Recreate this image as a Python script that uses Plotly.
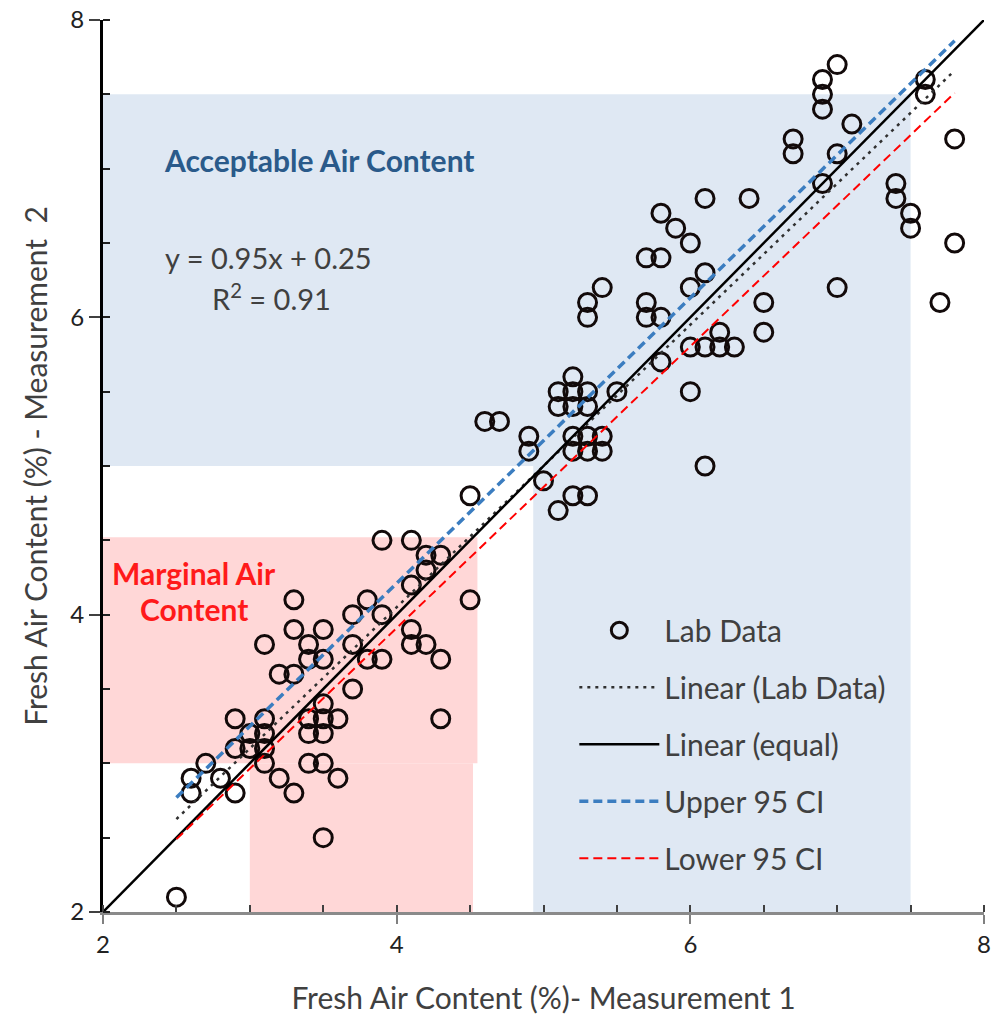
import plotly.graph_objects as go

# ---------------- data ----------------
lab_x = [2.5, 2.6, 2.6, 2.7, 2.8, 2.9, 2.9, 3.1, 2.9, 3.0, 3.0, 3.1, 3.1, 3.1,
         3.2, 3.3, 3.5, 3.4, 3.5, 3.6, 3.4, 3.5, 3.4, 3.5, 3.6, 3.5,
         3.2, 3.3, 3.4, 3.4, 3.5, 3.1, 3.3, 3.5, 3.3, 3.7, 3.7, 3.8, 3.9,
         3.7, 3.8, 3.9, 3.9, 4.1, 4.2, 4.3, 4.2, 4.1, 4.5, 4.1, 4.1, 4.2, 4.3,
         4.3, 4.5,
         4.6, 4.7, 4.9, 4.9, 5.0, 5.1, 5.2, 5.3,
         5.2, 5.1, 5.2, 5.3, 5.1, 5.2, 5.3, 5.2, 5.3, 5.4, 5.2, 5.3, 5.4,
         5.5, 6.0, 6.1,
         5.4, 5.3, 5.3, 5.7, 5.7, 5.8, 5.7, 5.8, 5.8, 5.9, 6.0, 6.1, 6.0, 6.1, 6.4,
         6.0, 6.1, 6.2, 6.2, 6.3, 5.8, 6.5, 6.5,
         7.0, 6.9, 6.9, 6.9, 7.1, 6.7, 6.7, 7.0, 6.9, 7.4, 7.4, 7.5, 7.5,
         7.8, 7.8, 7.7, 7.0, 7.6, 7.6]
lab_y = [2.1, 2.9, 2.8, 3.0, 2.9, 2.8, 3.3, 3.3, 3.1, 3.1, 3.2, 3.2, 3.0, 3.1,
         2.9, 2.8, 2.5, 3.0, 3.0, 2.9, 3.2, 3.2, 3.3, 3.3, 3.3, 3.4,
         3.6, 3.6, 3.7, 3.8, 3.7, 3.8, 3.9, 3.9, 4.1, 3.5, 3.8, 3.7, 3.7,
         4.0, 4.1, 4.0, 4.5, 4.5, 4.4, 4.4, 4.3, 4.2, 4.1, 3.9, 3.8, 3.8, 3.7,
         3.3, 4.8,
         5.3, 5.3, 5.2, 5.1, 4.9, 4.7, 4.8, 4.8,
         5.6, 5.5, 5.5, 5.5, 5.4, 5.4, 5.4, 5.2, 5.2, 5.2, 5.1, 5.1, 5.1,
         5.5, 5.5, 5.0,
         6.2, 6.1, 6.0, 6.1, 6.0, 6.0, 6.4, 6.4, 6.7, 6.6, 6.5, 6.3, 6.2, 6.8, 6.8,
         5.8, 5.8, 5.9, 5.8, 5.8, 5.7, 6.1, 5.9,
         7.7, 7.6, 7.5, 7.4, 7.3, 7.2, 7.1, 7.1, 6.9, 6.9, 6.8, 6.7, 6.6,
         7.2, 6.5, 6.1, 6.2, 7.6, 7.5]

# trendline of lab data (as labelled on the chart)
fit_slope = 0.95
fit_intercept = 0.25
fit_x = [2.5, 7.8]

# line of equality
equal_x = [2.0, 8.0]
equal_y = [2.0, 8.0]

# 95% confidence bounds
ci_x = [2.5, 7.8]
ci_upper = [2.77, 7.86]
ci_lower = [2.49, 7.51]

# shaded zones: (x0, x1, y0, y1)
acceptable_zones = [(2.0, 7.5, 5.0, 7.5), (4.93, 7.5, 2.0, 5.0)]
marginal_zones = [(2.0, 4.55, 3.0, 4.52), (3.0, 4.52, 2.0, 3.0)]

x_ticks = [2, 4, 6, 8]
y_ticks = [2, 4, 6, 8]

# ---------------- figure ----------------
FONT = "Lato"
TXT = "#404040"

fig = go.Figure()

fig.add_trace(go.Scatter(
    x=lab_x, y=lab_y, mode="markers", name="Lab Data", legendgroup="a",
    marker=dict(symbol="circle-open", size=18, color="#120a0a",
                line=dict(width=3, color="#120a0a")),
))
fit_y = [fit_slope * v + fit_intercept for v in fit_x]
fig.add_trace(go.Scatter(
    x=fit_x, y=fit_y, mode="lines", name="Linear (Lab Data)", legendgroup="b",
    line=dict(color="#303030", width=2.5, dash="3px,5px"),
))
fig.add_trace(go.Scatter(
    x=equal_x, y=equal_y, mode="lines", name="Linear (equal)", legendgroup="c",
    line=dict(color="black", width=2.5),
))
fig.add_trace(go.Scatter(
    x=ci_x, y=ci_upper, mode="lines", name="Upper 95 CI", legendgroup="d",
    line=dict(color="#3b7dc0", width=3.5, dash="9px,5px"),
))
fig.add_trace(go.Scatter(
    x=ci_x, y=ci_lower, mode="lines", name="Lower 95 CI", legendgroup="e",
    line=dict(color="#ff0000", width=2, dash="9px,5px"),
))

shapes = []
for (x0, x1, y0, y1) in acceptable_zones:
    shapes.append(dict(type="rect", xref="x", yref="y", x0=x0, x1=x1, y0=y0, y1=y1,
                       fillcolor="#dfe8f3", line=dict(width=0), layer="below"))
for (x0, x1, y0, y1) in marginal_zones:
    shapes.append(dict(type="rect", xref="x", yref="y", x0=x0, x1=x1, y0=y0, y1=y1,
                       fillcolor="#ffd7d7", line=dict(width=0), layer="below"))

annotations = [
    dict(x=2.40, y=7.06, xref="x", yref="y", xanchor="left", yanchor="middle",
         text="<b>Acceptable Air Content</b>", showarrow=False,
         font=dict(family=FONT, size=30, color="#2a5a8a")),
    dict(x=2.41, y=6.40, xref="x", yref="y", xanchor="left", yanchor="middle",
         text="y = 0.95x + 0.25", showarrow=False,
         font=dict(family=FONT, size=29, color=TXT)),
    dict(x=2.73, y=6.14, xref="x", yref="y", xanchor="left", yanchor="middle",
         text="R<sup>2</sup> = 0.91", showarrow=False,
         font=dict(family=FONT, size=29, color=TXT)),
    dict(x=2.62, y=4.28, xref="x", yref="y", xanchor="center", yanchor="middle",
         text="<b>Marginal Air</b>", showarrow=False,
         font=dict(family=FONT, size=30, color="#ff1a1a")),
    dict(x=2.62, y=4.04, xref="x", yref="y", xanchor="center", yanchor="middle",
         text="<b>Content</b>", showarrow=False,
         font=dict(family=FONT, size=30, color="#ff1a1a")),
]

fig.update_layout(
    width=992, height=1017,
    margin=dict(l=103, r=8, t=20, b=105, autoexpand=False),
    paper_bgcolor="white", plot_bgcolor="white",
    font=dict(family=FONT, size=30, color=TXT),
    shapes=shapes, annotations=annotations,
    legend=dict(x=0.535, y=0.345, xanchor="left", yanchor="top",
                bgcolor="rgba(0,0,0,0)", itemwidth=80,
                tracegroupgap=15, traceorder="grouped",
                font=dict(family=FONT, size=30, color=TXT)),
    showlegend=True,
)

fig.update_xaxes(
    range=[2, 8], tickvals=x_ticks, ticks="outside", ticklen=9, tickwidth=2,
    tickcolor="#808080", showline=True, linecolor="#8a8a8a", linewidth=3,
    showgrid=False, zeroline=False, ticklabeloverflow="allow", automargin=False,
    minor=dict(dtick=0.5, tick0=2, ticks="inside", ticklen=7, tickwidth=2, tickcolor="#404040", showgrid=False),
    tickfont=dict(family=FONT, size=24, color="#222"),
    title=dict(text="Fresh Air Content (%)- Measurement 1", standoff=32,
               font=dict(family=FONT, size=30, color=TXT)),
)
fig.update_yaxes(
    range=[2, 8], tickvals=y_ticks, ticks="outside", ticklen=11, tickwidth=2,
    tickcolor="#404040", showline=True, linecolor="black", linewidth=3,
    showgrid=False, zeroline=False, ticklabeloverflow="allow", automargin=False,
    minor=dict(dtick=0.5, tick0=2, ticks="inside", ticklen=7, tickwidth=2, tickcolor="#202020", showgrid=False),
    tickfont=dict(family=FONT, size=24, color="#222"),
    title=dict(text="Fresh Air Content (%) - Measurement  2", standoff=14,
               font=dict(family=FONT, size=30, color=TXT)),
)

fig.write_html("out.html")
